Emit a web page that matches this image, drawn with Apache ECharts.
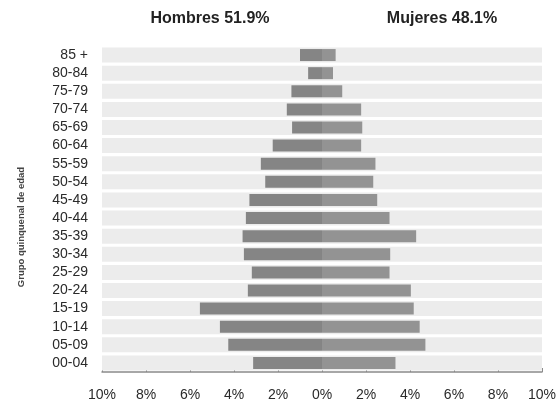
<!DOCTYPE html>
<html>
<head>
<meta charset="utf-8">
<script src="https://cdn.jsdelivr.net/npm/echarts@6/dist/echarts.min.js"></script>
<style>
html,body{margin:0;padding:0;background:#fff;}
#c{width:559px;height:404px;}
</style>
</head>
<body>
<div id="c"></div>
<script>
var categories = ['00-04','05-09','10-14','15-19','20-24','25-29','30-34','35-39','40-44','45-49','50-54','55-59','60-64','65-69','70-74','75-79','80-84','85 +'];
var hombres = [3.13,4.26,4.64,5.55,3.37,3.19,3.55,3.61,3.46,3.30,2.58,2.78,2.24,1.36,1.60,1.39,0.63,1.00];
var mujeres = [3.34,4.70,4.44,4.17,4.04,3.07,3.10,4.28,3.07,2.51,2.33,2.43,1.78,1.83,1.78,0.92,0.50,0.62];
var xTicks = [-10,-8,-6,-4,-2,0,2,4,6,8,10];
var titleH = 'Hombres 51.9%';
var titleM = 'Mujeres 48.1%';
var yTitle = 'Grupo quinquenal de edad';

var FONT = "'Liberation Sans Narrow','Liberation Sans',sans-serif";
var chart = echarts.init(document.getElementById('c'));
chart.setOption({
  animation:false,
  backgroundColor:'#fff',
  title:[
    {text:titleH,left:205,top:6,textAlign:'center',textStyle:{fontFamily:FONT,fontSize:16,fontWeight:'bold',color:'#222'}},
    {text:titleM,left:437,top:6,textAlign:'center',textStyle:{fontFamily:FONT,fontSize:16,fontWeight:'bold',color:'#222'}}
  ],
  grid:{left:102,right:16,top:46,bottom:32,containLabel:false},
  xAxis:{
    type:'value',min:xTicks[0],max:xTicks[xTicks.length-1],interval:2,
    axisLine:{show:true,lineStyle:{color:'#8a8a8a',width:1.5}},
    axisTick:{show:true,inside:true,length:4,lineStyle:{color:'#8a8a8a'}},
    splitLine:{show:false},
    axisLabel:{formatter:function(v){return Math.abs(v)+'%';},fontFamily:FONT,fontSize:14,color:'#2a2a2a',margin:16}
  },
  yAxis:[
    {type:'category',data:categories,
     axisLine:{show:false},axisTick:{show:false},
     axisLabel:{interval:0,fontFamily:FONT,fontSize:14,color:'#2a2a2a',margin:14},
     name:yTitle,nameLocation:'middle',nameRotate:90,nameGap:76,
     nameTextStyle:{fontFamily:"'Liberation Sans',sans-serif",fontSize:9.5,fontWeight:'bold',color:'#444',padding:[0,0,0,-36]}
    },
    {type:'category',data:categories,show:false}
  ],
  series:[
    {type:'bar',yAxisIndex:1,data:categories.map(function(){return -10;}),stack:'bg',barWidth:15,itemStyle:{color:'#ececec'},silent:true},
    {type:'bar',yAxisIndex:1,data:categories.map(function(){return 10;}),stack:'bg',barWidth:15,itemStyle:{color:'#ececec'},silent:true},
    {type:'bar',yAxisIndex:0,name:'Hombres',data:hombres.map(function(v){return -v;}),stack:'p',barWidth:12,itemStyle:{color:'#858585'}},
    {type:'bar',yAxisIndex:0,name:'Mujeres',data:mujeres,stack:'p',barWidth:12,itemStyle:{color:'#939393'}}
  ]
});
</script>
</body>
</html>
